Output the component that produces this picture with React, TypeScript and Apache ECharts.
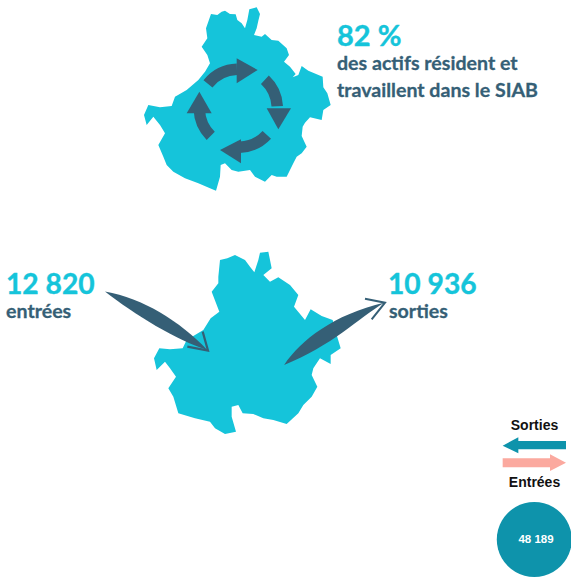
import React, { useEffect, useRef } from "react";
import * as echarts from "echarts";

const shareLabel = ["82 %"];
const shareCaption = ["des actifs résident et", "travaillent dans le SIAB"];
const flowValues = ["12 820", "10 936"];
const flowLabels = ["entrées", "sorties"];
const legendLabels = ["Sorties", "Entrées"];
const circleValue = ["48 189"];

const CYAN = "#15C4DA";
const DARK = "#355F76";
const TEAL = "#0E93AB";
const SALMON = "#FBA99F";
const FONT = "Lato, 'Open Sans', sans-serif";
const LEG = "'Liberation Sans', Arial, sans-serif";

const at = (ox: number, oy: number, pts: number[][]) => pts.map(([x, y]) => [ox + x / 3, oy + y / 3]);

const map1 = [[243,42],[262,45],[275,35],[285,32],[300,42],[317,43],[322,60],[335,70],[345,85],[352,60],[358,28],[380,22],[390,42],[385,62],[380,85],[372,105],[395,110],[405,102],[425,120],[445,122],[470,145],[477,165],[462,185],[480,200],[497,222],[488,232],[505,225],[515,198],[535,212],[578,230],[580,262],[592,280],[602,315],[580,330],[575,360],[540,352],[525,368],[518,380],[515,408],[530,440],[515,460],[500,470],[490,490],[470,530],[440,530],[425,525],[405,545],[375,530],[360,510],[325,515],[305,510],[285,490],[272,495],[270,530],[258,572],[240,565],[205,550],[165,535],[130,515],[110,495],[100,470],[85,435],[105,400],[90,375],[70,350],[50,375],[42,345],[55,315],[90,322],[125,318],[135,290],[170,270],[205,240],[225,215],[240,190],[232,165],[215,140],[232,115],[228,85]];
const map2 = [[390,60],[412,55],[435,45],[465,60],[480,80],[493,97],[505,60],[510,38],[535,35],[545,85],[520,105],[540,125],[565,112],[600,135],[625,165],[612,200],[645,240],[662,208],[695,228],[728,240],[740,285],[752,325],[722,345],[722,372],[690,355],[670,385],[665,405],[682,440],[665,470],[640,495],[625,520],[590,552],[550,540],[520,535],[490,522],[458,520],[445,495],[425,500],[425,530],[438,575],[405,582],[375,565],[360,545],[315,535],[265,520],[250,470],[235,445],[258,410],[240,385],[225,365],[200,390],[192,355],[208,325],[240,328],[278,325],[290,300],[340,270],[362,235],[388,215],[365,155],[385,130],[385,110]];
const ringHeads = [
  [[320,175],[383,210],[320,250]],
  [[410,325],[483,325],[445,388]],
  [[333,418],[333,490],[270,450]],
  [[170,340],[245,340],[208,275]],
];
const ringArcs = [[-141, -92], [-47, -3], [43, 88], [135, 178]];
const legendLeft = [[68,122],[115,97],[115,108],[258,108],[258,133],[115,133],[115,145]];
const legendRight = [[68,160],[210,160],[210,148],[258,173],[210,198],[210,187],[68,187]];

echarts.graphic.registerShape("entryBody", echarts.graphic.extendPath("M45 155 C160 175 270 245 352 330 C265 305 130 222 45 155 Z", {}));
echarts.graphic.registerShape("exitBody", echarts.graphic.extendPath("M583 375 C635 300 730 225 885 188 C805 235 725 320 583 375 Z", {}));

const txt = (x: number, y: number, text: string, size: number, fill: string, family = FONT, align = "left", stroke = 0) => ({
  type: "text",
  x,
  y,
  style: { text, fontSize: size, fontWeight: "bold", fontFamily: family, fill, align, verticalAlign: "middle", stroke: stroke ? fill : undefined, lineWidth: stroke },
});

export default function App() {
  const ref = useRef<HTMLDivElement>(null);
  useEffect(() => {
    const chart = echarts.init(ref.current!, null, { renderer: "svg" });
    const rad = (d: number) => (d * Math.PI) / 180;
    const elements: any[] = [
      { type: "polygon", shape: { points: at(130, 0, map1) }, style: { fill: CYAN } },
      { type: "polygon", shape: { points: at(90, 240, map2) }, style: { fill: CYAN } },
      ...ringArcs.map(([a, b]) => ({
        type: "arc",
        shape: { cx: 238.3, cy: 108.3, r: 39, startAngle: rad(a), endAngle: rad(b), clockwise: true },
        style: { stroke: DARK, lineWidth: 11.5, fill: "none" },
      })),
      ...ringHeads.map((h) => ({ type: "polygon", shape: { points: at(130, 0, h) }, style: { fill: DARK } })),
      { type: "entryBody", x: 90, y: 240, scaleX: 1 / 3, scaleY: 1 / 3, style: { fill: DARK } },
      { type: "exitBody", x: 90, y: 240, scaleX: 1 / 3, scaleY: 1 / 3, style: { fill: DARK } },
      { type: "polyline", shape: { points: at(90, 240, [[338,275],[354,332],[292,320]]) }, style: { stroke: DARK, lineWidth: 2.2, fill: "none" } },
      { type: "polyline", shape: { points: at(90, 240, [[825,176],[885,188],[845,238]]) }, style: { stroke: DARK, lineWidth: 2, fill: "none" } },
      txt(337, 34.5, shareLabel[0], 29, CYAN, FONT, "left", 0.4),
      txt(337, 62, shareCaption[0], 19.6, DARK, FONT, "left", 0.3),
      txt(337, 89, shareCaption[1], 19.6, DARK, FONT, "left", 0.3),
      txt(6, 283, flowValues[0], 28.2, CYAN, FONT, "left", 0.4),
      txt(6, 310, flowLabels[0], 19.6, DARK, FONT, "left", 0.3),
      txt(388, 283, flowValues[1], 28.2, CYAN, FONT, "left", 0.4),
      txt(389, 310, flowLabels[1], 19.6, DARK, FONT, "left", 0.3),
      { type: "polygon", shape: { points: at(480, 405, legendLeft) }, style: { fill: TEAL } },
      { type: "polygon", shape: { points: at(480, 405, legendRight) }, style: { fill: SALMON } },
      txt(534.5, 425, legendLabels[0], 14, "#111111", LEG, "center"),
      txt(534.5, 482, legendLabels[1], 14, "#111111", LEG, "center"),
      { type: "circle", shape: { cx: 534.3, cy: 539.5, r: 37.5 }, style: { fill: TEAL } },
      txt(536, 538.5, circleValue[0], 11.5, "#ffffff", LEG, "center"),
    ];
    chart.setOption({ animation: false, graphic: { elements } });
    return () => chart.dispose();
  }, []);
  return <div ref={ref} style={{ position: "fixed", left: 0, top: 0, width: 571, height: 578, background: "#fff" }} />;
}
